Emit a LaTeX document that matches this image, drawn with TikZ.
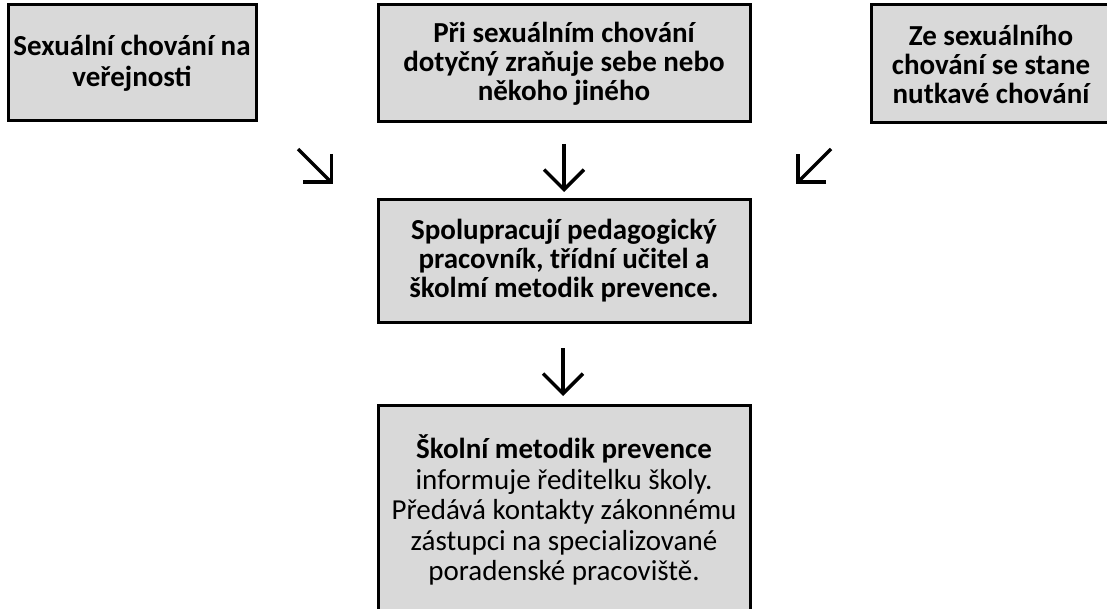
\documentclass[tikz,border=0pt]{standalone}
\usepackage{fontspec}
\setmainfont{Carlito}
\usetikzlibrary{arrows.meta}
\definecolor{boxgray}{HTML}{D9D9D9}
\tikzset{
  box/.style={draw=black, fill=boxgray, line width=3pt, align=center, inner sep=0pt,
    font=\fontsize{29pt}{29pt}\selectfont\bfseries},
  arr/.style={line width=3.5pt, -{Straight Barb[length=20pt,width=40pt,line width=3.5pt]}}
}
\begin{document}
\begin{tikzpicture}[x=1pt,y=-1pt]
\clip (0,0) rectangle (1107,609);
\node[box, minimum width=248pt, minimum height=116pt, font=\fontsize{29pt}{31pt}\selectfont\bfseries] (b1) at (132,63) {Sexuální chování na\\veřejnosti};
\node[box, minimum width=372pt, minimum height=117pt] (b2) at (564,63.5) {Při sexuálním chování\\dotyčný zraňuje sebe nebo\\někoho jiného};
\node[box, minimum width=240pt, minimum height=118pt] (b3) at (991,64) {Ze sexuálního\\chování se stane\\nutkavé chování};
\node[box, minimum width=372pt, minimum height=122pt] (b4) at (564,261) {Spolupracují pedagogický\\pracovník, třídní učitel a\\školmí metodik prevence.};
\node[box, minimum width=372pt, minimum height=210pt, font=\fontsize{29pt}{30.5pt}\selectfont] (b5) at (564,510) {\textbf{Školní metodik prevence}\\informuje ředitelku školy.\\Předává kontakty zákonnému\\zástupci na specializované\\poradenské pracoviště.};
\coordinate (a1s) at (298,149);
\coordinate (a1e) at (333,184);
\coordinate (a2s) at (564,144);
\coordinate (a2e) at (564,192);
\coordinate (a3s) at (831,149);
\coordinate (a3e) at (796,184);
\coordinate (a4s) at (563,348);
\coordinate (a4e) at (563,396);
\draw[arr] (a1s) -- (a1e);
\draw[arr] (a2s) -- (a2e);
\draw[arr] (a3s) -- (a3e);
\draw[arr] (a4s) -- (a4e);
\end{tikzpicture}
\end{document}
